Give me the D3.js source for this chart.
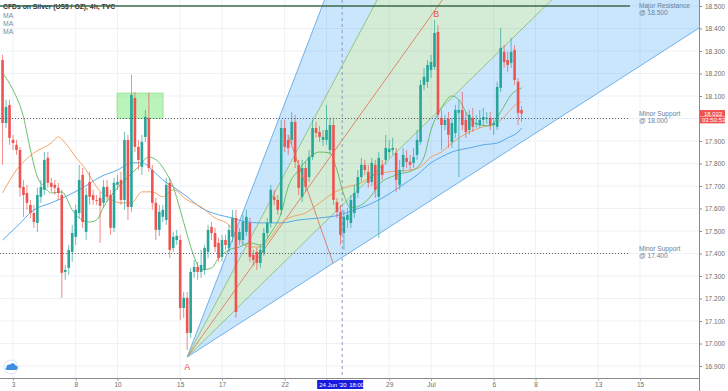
<!DOCTYPE html>
<html><head><meta charset="utf-8">
<script src="https://cdn.jsdelivr.net/npm/d3@7/dist/d3.min.js"></script>
<style>
body{margin:0;background:#fff}
svg{display:block}
text{font-family:"Liberation Sans",Arial,sans-serif}
</style>
</head><body>
<svg id="chart" width="728" height="391"></svg>
<script>
// ---------- DATA ----------
const title = "CFDs on Silver (US$ / OZ), 4h, TVC";
const legendItems = ["MA", "MA", "MA"];
const firstDay = -0.5;          // trading-day position of first 4h candle (2 Jun 12:00); day 0 = 3 Jun
const candlesPerDay = 6;
const open = [18.260,17.980,18.060,17.905,17.883,17.860,17.696,17.669,17.616,17.580,
17.536,17.652,17.683,17.825,17.714,17.705,17.692,17.660,17.318,17.336,
17.407,17.474,17.580,17.749,17.496,17.718,17.660,17.638,17.647,17.625,
17.696,17.660,17.514,17.705,17.727,17.638,17.905,17.607,18.091,17.874,
17.785,17.918,18.003,17.771,17.625,17.505,17.563,17.549,17.714,17.425,
17.460,17.460,17.158,17.203,17.047,17.318,17.340,17.318,17.327,17.407,
17.518,17.491,17.447,17.385,17.460,17.425,17.474,17.558,17.460,17.460,
17.496,17.536,17.394,17.407,17.358,17.403,17.491,17.536,17.652,17.638,
17.594,17.958,17.905,17.905,17.985,17.794,17.652,17.780,17.740,17.829,
17.958,17.940,17.905,17.905,17.860,17.971,17.629,17.585,17.491,17.549,
17.536,17.580,17.669,17.740,17.794,17.763,17.718,17.794,17.652,17.794,
17.816,17.851,17.860,17.847,17.705,17.785,17.825,17.807,17.803,17.838,
17.896,18.149,18.163,18.216,18.229,18.385,18.003,17.971,17.998,17.896,
17.936,18.025,18.038,17.994,17.949,18.003,17.976,17.971,17.994,17.998,
18.003,17.971,17.963,18.136,18.296,18.260,18.247,18.305,18.163,18.038];
const high = [18.283,18.083,18.083,17.927,17.905,17.874,17.727,17.705,17.638,17.616,
17.692,17.727,17.851,17.851,17.736,17.727,17.714,17.683,17.349,17.438,
17.527,17.616,17.794,17.780,17.692,17.763,17.683,17.660,17.674,17.727,
17.727,17.683,17.736,17.749,17.763,17.940,17.927,18.194,18.118,17.905,
17.927,18.038,18.114,17.794,17.647,17.616,17.616,17.736,17.736,17.496,
17.505,17.483,17.229,17.229,17.336,17.371,17.363,17.416,17.438,17.527,
17.540,17.514,17.469,17.483,17.483,17.527,17.594,17.594,17.514,17.572,
17.594,17.558,17.416,17.425,17.438,17.514,17.558,17.705,17.683,17.660,
17.994,17.994,17.927,18.029,18.016,17.816,17.816,17.807,17.860,17.994,
17.985,17.967,17.949,18.060,18.003,18.003,17.647,17.616,17.594,17.603,
17.660,17.705,17.771,17.825,17.816,17.794,17.825,17.816,17.851,17.816,
17.927,17.905,17.914,17.869,17.816,17.869,17.860,17.838,17.869,17.949,
18.171,18.225,18.260,18.283,18.438,18.416,18.038,18.016,18.029,18.003,
18.060,18.083,18.118,18.029,18.038,18.047,18.016,18.038,18.047,18.029,
18.029,18.003,18.163,18.402,18.327,18.296,18.358,18.327,18.180,18.056];
const low = [17.794,17.958,17.883,17.860,17.838,17.652,17.563,17.594,17.558,17.514,
17.496,17.625,17.660,17.692,17.674,17.660,17.638,17.203,17.283,17.305,
17.363,17.438,17.558,17.514,17.460,17.616,17.616,17.616,17.447,17.603,
17.629,17.483,17.496,17.683,17.616,17.594,17.549,17.585,17.851,17.771,
17.749,17.896,17.763,17.594,17.460,17.478,17.540,17.527,17.380,17.407,
17.438,17.105,17.114,16.971,17.025,17.292,17.283,17.292,17.305,17.380,
17.460,17.407,17.363,17.363,17.416,17.407,17.451,17.114,17.438,17.438,
17.478,17.363,17.345,17.327,17.336,17.389,17.469,17.514,17.616,17.572,
17.572,17.851,17.838,17.883,17.780,17.660,17.629,17.674,17.718,17.816,
17.914,17.896,17.878,17.883,17.838,17.616,17.558,17.438,17.416,17.514,
17.514,17.558,17.647,17.718,17.749,17.692,17.700,17.647,17.469,17.727,
17.794,17.825,17.838,17.674,17.683,17.763,17.780,17.771,17.780,17.816,
17.883,18.127,18.136,18.180,18.216,17.994,17.860,17.949,17.869,17.869,
17.914,17.740,17.949,17.914,17.927,17.940,17.958,17.958,17.971,17.976,
17.949,17.927,17.949,18.118,18.225,18.207,18.225,18.149,17.971,17.985];
const close = [17.980,18.051,17.914,17.891,17.860,17.692,17.660,17.625,17.580,17.540,
17.660,17.696,17.816,17.714,17.696,17.692,17.669,17.314,17.327,17.416,
17.491,17.594,17.727,17.540,17.660,17.652,17.638,17.634,17.612,17.696,
17.652,17.514,17.714,17.718,17.638,17.905,17.607,18.105,17.874,17.816,
17.896,18.007,17.780,17.625,17.505,17.585,17.594,17.705,17.416,17.474,
17.478,17.158,17.203,17.047,17.318,17.340,17.318,17.349,17.425,17.505,
17.491,17.429,17.380,17.460,17.438,17.505,17.558,17.140,17.496,17.540,
17.563,17.385,17.371,17.358,17.416,17.491,17.536,17.683,17.638,17.594,
17.958,17.874,17.869,17.985,17.807,17.692,17.780,17.696,17.829,17.958,
17.936,17.918,17.918,17.949,17.971,17.638,17.585,17.483,17.563,17.572,
17.638,17.669,17.740,17.794,17.771,17.714,17.803,17.683,17.825,17.749,
17.869,17.865,17.869,17.727,17.771,17.838,17.807,17.794,17.829,17.905,
18.149,18.185,18.238,18.251,18.380,18.016,17.971,17.994,17.927,17.980,
18.038,18.038,17.971,17.940,18.016,17.963,17.980,17.994,18.007,18.003,
17.971,17.980,18.140,18.314,18.251,18.238,18.296,18.171,18.025,18.022];

// moving averages (candle index -> price)
const maGreenIdx = [0,3,6,8,10,12,14,17,20,22,25,27,29,32,36,39,42,45,47,49,51,53,55,57,60,62,65,68,71,74,77,80,82,85,89,91,94,96,98,100,103,106,108,113,118,121,123,126,129,131,134,137,140,143,146,149];
const maGreenVal = [18.202,18.127,18.007,17.860,17.740,17.696,17.669,17.674,17.594,17.558,17.540,17.549,17.607,17.674,17.740,17.785,17.829,17.803,17.758,17.696,17.594,17.483,17.385,17.327,17.336,17.380,17.416,17.429,17.447,17.438,17.491,17.580,17.696,17.771,17.838,17.851,17.847,17.771,17.660,17.603,17.616,17.660,17.705,17.749,17.771,17.829,17.949,18.047,18.100,18.083,18.003,17.971,17.967,18.029,18.105,18.136];
const maOrangeIdx = [0,4,9,14,16,18,21,24,27,30,34,37,40,43,46,49,53,57,61,65,68,71,74,77,80,83,87,91,95,99,103,106,111,117,120,123,126,129,134,138,142,145,148,149];
const maOrangeVal = [17.670,17.771,17.847,17.891,17.918,17.891,17.829,17.771,17.696,17.652,17.625,17.625,17.674,17.674,17.652,17.683,17.638,17.607,17.558,17.527,17.460,17.429,17.429,17.474,17.536,17.563,17.580,17.625,17.669,17.696,17.714,17.745,17.763,17.771,17.785,17.829,17.851,17.891,17.940,17.963,17.980,18.025,18.069,18.074];
const maBlueIdx = [0,4,9,14,18,23,28,33,37,40,43,46,49,53,57,62,66,70,74,80,85,91,97,101,105,108,114,119,123,126,129,131,134,138,142,145,148,149];
const maBlueVal = [17.460,17.518,17.594,17.625,17.652,17.692,17.740,17.771,17.803,17.803,17.771,17.727,17.696,17.652,17.603,17.572,17.558,17.540,17.536,17.536,17.549,17.558,17.572,17.594,17.616,17.638,17.696,17.749,17.803,17.829,17.851,17.860,17.869,17.883,17.891,17.914,17.940,17.958];

// axes
const priceTicks = d3.range(0, 17).map(k => +(16.9 + k * 0.1).toFixed(1));
const dayTicks  = [0, 3, 5, 8, 10, 13, 15, 18, 20, 23, 25, 28, 30];
const dayLabels = ["3", "8", "10", "15", "17", "22", "", "29", "Jul", "6", "8", "13", "15"]; // "24" is covered by the crosshair label

// drawings
const fanAnchor = {day: 8.335, price: 16.94};
const fanSlopes = [0.2415, 0.1746, 0.1300, 0.0910, 0.0597];   // price per trading day
const trendLine = [{day: 13.16, price: 17.927}, {day: 15.31, price: 17.358}];
const pointB = {day: 20.25, price: 18.45};
const zoneBox = {d0: 4.98, d1: 7.18, p0: 18.0, p1: 18.113};
const levels = [
  {price: 18.5, l1: "Major Resistance", l2: "@ 18.500", kind: "solid"},
  {price: 18.0, l1: "Minor Support", l2: "@ 18.000", kind: "dot"},
  {price: 17.4, l1: "Minor Support", l2: "@ 17.400", kind: "dot"}
];
const levelEndDay = 29.52, levelTextDay = 29.95;
const crossDay = 15.75, crossLabel = ["24 Jun '20", "18:00"];
const lastPrice = 18.022, countdown = "03:50:53";

// ---------- CHART ----------
const PR = 699, PB = 378;
const x = d3.scaleLinear().domain([0, 30]).range([13, 640]);
const y = d3.scaleLinear().domain([16.9, 18.5]).range([366, 6]);
const dayOf = i => firstDay + i / candlesPerDay;

const svg = d3.select("#chart");
svg.append("defs").append("clipPath").attr("id", "plot")
  .append("rect").attr("x", 0).attr("y", 0).attr("width", PR).attr("height", PB);

const grid = svg.append("g").attr("clip-path", "url(#plot)");
grid.selectAll("line.h").data(priceTicks).join("line")
  .attr("x1", 0).attr("x2", PR).attr("y1", d => y(d)).attr("y2", d => y(d))
  .attr("stroke", "#eef1f6").attr("stroke-width", 1);
grid.selectAll("line.v").data(dayTicks).join("line")
  .attr("y1", 0).attr("y2", PB).attr("x1", d => x(d)).attr("x2", d => x(d))
  .attr("stroke", "#eef1f6").attr("stroke-width", 1);

const P = svg.append("g").attr("clip-path", "url(#plot)");

// fan
const farDay = 60;
const fanPt = (s, d) => [x(d), y(fanAnchor.price + s * (d - fanAnchor.day))];
const A = [x(fanAnchor.day), y(fanAnchor.price)];
const band = (s1, s2, fill) => P.append("path")
  .attr("d", d3.line()([A, fanPt(s1, farDay), fanPt(s2, farDay)]) + "Z")
  .attr("fill", fill).attr("stroke", "none");
band(fanSlopes[0], fanSlopes[1], "rgba(33,150,243,0.24)");
band(fanSlopes[1], fanSlopes[3], "rgba(76,175,80,0.24)");
band(fanSlopes[3], fanSlopes[4], "rgba(33,150,243,0.24)");
const fanColors = ["#64a8e6", "#8cbf7a", "#e07a5a", "#8cbf7a", "#64a8e6"];
fanSlopes.forEach((s, k) => {
  P.append("line").attr("x1", A[0]).attr("y1", A[1])
    .attr("x2", fanPt(s, farDay)[0]).attr("y2", fanPt(s, farDay)[1])
    .attr("stroke", fanColors[k]).attr("stroke-width", 0.9);
});

// zone rectangle
P.append("rect").attr("x", x(zoneBox.d0)).attr("y", y(zoneBox.p1))
  .attr("width", x(zoneBox.d1) - x(zoneBox.d0)).attr("height", y(zoneBox.p0) - y(zoneBox.p1))
  .attr("fill", "rgba(102,230,102,0.45)").attr("stroke", "#8ee08e").attr("stroke-width", 0.8);

// crosshair vertical
P.append("line").attr("x1", x(crossDay)).attr("x2", x(crossDay)).attr("y1", 0).attr("y2", PB)
  .attr("stroke", "#8c96c4").attr("stroke-width", 1).attr("stroke-dasharray", "3,3");

// moving averages
const maLine = d3.line().x(d => x(dayOf(d[0]))).y(d => y(d[1])).curve(d3.curveMonotoneX);
const drawMA = (idx, val, col) => P.append("path")
  .attr("d", maLine(idx.map((v, k) => [v, val[k]])))
  .attr("fill", "none").attr("stroke", col).attr("stroke-width", 0.9);
drawMA(maBlueIdx, maBlueVal, "#4a9fe8");
drawMA(maOrangeIdx, maOrangeVal, "#f39a55");
drawMA(maGreenIdx, maGreenVal, "#5cb85c");

// candles
const up = "#26a69a", dn = "#ef5350";
const cg = P.append("g");
open.forEach((o, i) => {
  const c = close[i], col = c >= o ? up : dn, cx = x(dayOf(i));
  cg.append("line").attr("x1", cx).attr("x2", cx).attr("y1", y(high[i])).attr("y2", y(low[i]))
    .attr("stroke", col).attr("stroke-width", 0.8).attr("opacity", 0.85);
  const yt = y(Math.max(o, c)), yb = y(Math.min(o, c));
  cg.append("rect").attr("x", cx - 1.3).attr("width", 2.6)
    .attr("y", yt).attr("height", Math.max(1, yb - yt)).attr("fill", col);
});

// descending trend line
P.append("line").attr("x1", x(trendLine[0].day)).attr("y1", y(trendLine[0].price))
  .attr("x2", x(trendLine[1].day)).attr("y2", y(trendLine[1].price))
  .attr("stroke", "#d9785e").attr("stroke-width", 0.9);

// horizontal levels
levels.forEach(L => {
  const ln = P.append("line").attr("x1", 0).attr("x2", x(levelEndDay))
    .attr("y1", y(L.price)).attr("y2", y(L.price));
  if (L.kind === "solid") ln.attr("stroke", "#3f6b4c").attr("stroke-width", 1);
  else ln.attr("stroke", "#555").attr("stroke-width", 0.9).attr("stroke-dasharray", "1,2");
  const ty = y(L.price);
  const off = L.kind === "solid" ? [1.8, 8.6] : [-2.6, 4.2];
  P.append("text").attr("x", x(levelTextDay)).attr("y", ty + off[0]).text(L.l1)
    .attr("font-size", 6.6).attr("fill", "#6a81a0");
  P.append("text").attr("x", x(levelTextDay)).attr("y", ty + off[1]).text(L.l2)
    .attr("font-size", 6.6).attr("fill", "#6a81a0");
});

// A / B labels
P.append("text").attr("x", A[0]).attr("y", A[1] + 13).attr("text-anchor", "middle")
  .attr("font-size", 9).attr("fill", "#e8553e").text("A");
P.append("text").attr("x", x(pointB.day)).attr("y", y(pointB.price)).attr("text-anchor", "middle")
  .attr("font-size", 9).attr("fill", "#e8553e").text("B");

// axes
const fmt = d3.format(".3f");
const ly = y(lastPrice);
const ya = svg.append("g").attr("transform", `translate(${PR},0)`)
  .call(d3.axisRight(y).tickValues(priceTicks).tickFormat(fmt).tickSize(3).tickPadding(3));
ya.select(".domain").remove();
ya.selectAll("line").attr("stroke", "#888");
ya.selectAll("text").attr("font-size", 6.5).attr("fill", "#6b6b6b")
  .attr("font-family", "Liberation Sans, Arial, sans-serif");
ya.selectAll(".tick").filter(d => Math.abs(y(d) - ly) < 10).select("text").remove(); // hidden by last-price tags

const xa = svg.append("g").attr("transform", `translate(0,${PB})`)
  .call(d3.axisBottom(x).tickValues(dayTicks).tickFormat((d, i) => dayLabels[i]).tickSize(3).tickPadding(1));
xa.select(".domain").remove();
xa.selectAll("line").attr("stroke", "#aaa");
xa.selectAll("text").attr("font-size", 6.5).attr("fill", "#6b6b6b")
  .attr("font-family", "Liberation Sans, Arial, sans-serif");

svg.append("line").attr("x1", 0).attr("x2", PR).attr("y1", PB + 0.5).attr("y2", PB + 0.5).attr("stroke", "#8a8a8a");
svg.append("line").attr("x1", PR + 0.5).attr("x2", PR + 0.5).attr("y1", 0).attr("y2", 391).attr("stroke", "#8a8a8a");

// crosshair time label
const cx0 = x(crossDay);
svg.append("rect").attr("x", cx0 - 25).attr("y", PB + 2).attr("width", 46).attr("height", 9).attr("fill", "#1a1ae0");
svg.append("text").attr("x", cx0 - 23).attr("y", PB + 9).attr("font-size", 6).attr("fill", "#fff").text(crossLabel[0]);
svg.append("text").attr("x", cx0 + 7).attr("y", PB + 9).attr("font-size", 6).attr("fill", "#fff").text(crossLabel[1]);

// last price labels
svg.append("rect").attr("x", PR + 1).attr("y", ly - 3.5).attr("width", 25).attr("height", 6.5).attr("fill", "#ef5350");
svg.append("rect").attr("x", PR + 1).attr("y", ly + 3.3).attr("width", 25).attr("height", 6.5).attr("fill", "#ef5350");
svg.append("text").attr("x", PR + 5).attr("y", ly + 2).attr("font-size", 6).attr("fill", "#fff").text(fmt(lastPrice));
svg.append("text").attr("x", PR + 3).attr("y", ly + 8.7).attr("font-size", 6).attr("fill", "#fff").text(countdown);

// title & legend
svg.append("text").attr("x", 3).attr("y", 9).attr("font-size", 6.8).attr("font-weight", "bold")
  .attr("fill", "#333").text(title);
legendItems.forEach((t, k) => svg.append("text").attr("x", 3).attr("y", 17.5 + k * 8)
  .attr("font-size", 6.8).attr("fill", "#888").text(t));
// top level line drawn over the title (as in reference)
svg.append("line").attr("x1", 0).attr("x2", x(levelEndDay)).attr("y1", y(18.5)).attr("y2", y(18.5))
  .attr("stroke", "#3f6b4c").attr("stroke-width", 1);

// logo
svg.append("circle").attr("cx", 11).attr("cy", 367).attr("r", 7).attr("fill", "#fff").attr("stroke", "#d5e3f3");
svg.append("path").attr("d", "M6.5,370 h9 a2.2,2.2 0 0 0 0,-4.4 a3,3 0 0 0 -5.6,-0.8 a2.4,2.4 0 0 0 -3.4,2.6 a1.4,1.4 0 0 0 0,2.6z")
  .attr("fill", "#3e8ee0");
</script>
</body></html>
